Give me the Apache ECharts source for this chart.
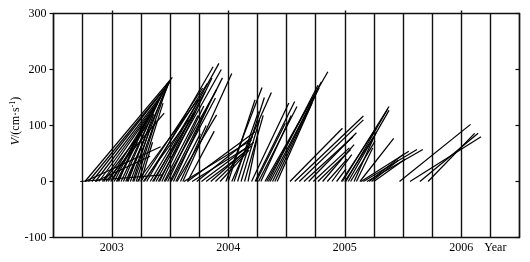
<!DOCTYPE html>
<html><head><meta charset="utf-8">
<script src="https://cdn.jsdelivr.net/npm/echarts@6/dist/echarts.min.js"></script>
<style>html,body{margin:0;padding:0;background:#fff}#c{width:530px;height:262px}</style>
</head><body><div id="c"></div>
<script>
// Each segment rises from V = 0 at segStart (decimal year) to segPeak (cm/s) at segEnd.
const segStart = [
  2002.77, 2002.80, 2002.83, 2002.86, 2002.89, 2002.92, 2002.95, 2002.97, 2003.00, 2003.02, 2003.04,
  2003.06, 2003.08, 2003.10, 2003.12, 2003.14, 2003.16, 2003.18, 2003.19, 2002.77, 2002.73, 2002.86,
  2003.21, 2003.23, 2003.25, 2003.13, 2003.05, 2002.99, 2002.93,
  2003.22, 2003.25, 2003.28, 2003.30, 2003.33, 2003.36, 2003.38, 2003.41, 2003.43, 2003.46, 2003.48,
  2003.51, 2003.53, 2003.56, 2003.59, 2003.61, 2003.65,
  2003.27, 2003.35, 2003.45, 2003.50, 2003.40, 2003.55,
  2003.62, 2003.65, 2003.69, 2003.73, 2003.77, 2003.81, 2003.85, 2003.89, 2003.93,
  2003.98, 2004.00, 2004.03, 2004.05, 2004.08, 2004.11, 2004.14, 2004.17,
  2004.20, 2004.23, 2004.26, 2004.24, 2004.28,
  2004.315, 2004.33, 2004.345, 2004.36, 2004.38, 2004.40, 2004.42,
  2004.53, 2004.57, 2004.61, 2004.65, 2004.69, 2004.73, 2004.77, 2004.81, 2004.85, 2004.89, 2004.93,
  2004.98, 2005.01, 2005.03, 2004.97, 2005.00, 2005.05, 2005.08, 2005.10,
  2005.13, 2005.14, 2005.16, 2005.19, 2005.21, 2005.23, 2005.25,
  2005.47, 2005.56, 2005.645, 2005.715
];
const segEnd = [
  2003.52, 2003.50, 2003.47, 2003.44, 2003.42, 2003.39, 2003.45, 2003.36, 2003.33, 2003.30, 2003.48,
  2003.26, 2003.44, 2003.40, 2003.50, 2003.36, 2003.46, 2003.32, 2003.49, 2003.42, 2003.44, 2003.33,
  2003.38, 2003.44, 2003.35, 2003.28, 2003.22, 2003.28, 2003.30,
  2003.74, 2003.78, 2003.82, 2003.87, 2003.76, 2003.92, 2003.80, 2003.70, 2003.86, 2003.90, 2003.79,
  2003.89, 2003.84, 2003.90, 2003.81, 2004.03, 2003.88,
  2003.66, 2003.72, 2003.74, 2003.95, 2003.94, 2003.76,
  2004.20, 2004.23, 2004.17, 2004.21, 2004.22, 2004.16, 2004.20, 2004.13, 2004.18,
  2004.29, 2004.23, 2004.37, 2004.26, 2004.31, 2004.27, 2004.30, 2004.25,
  2004.52, 2004.57, 2004.59, 2004.49, 2004.54,
  2004.855, 2004.80, 2004.77, 2004.78, 2004.76, 2004.74, 2004.72,
  2004.98, 2005.16, 2005.16, 2005.07, 2005.10, 2005.04, 2005.05, 2005.08, 2005.02, 2005.06, 2005.01,
  2005.38, 2005.37, 2005.38, 2005.27, 2005.25, 2005.26, 2005.27, 2005.24,
  2005.42, 2005.55, 2005.62, 2005.67, 2005.50, 2005.46, 2005.52,
  2006.08, 2006.17, 2006.145, 2006.115
];
const segPeak = [
  186, 178, 170, 158, 150, 140, 122, 130, 118, 110, 176,
  100, 160, 145, 180, 120, 165, 90, 178, 62, 12, 45,
  110, 140, 70, 75, 70, 95, 100,
  146, 167, 175, 205, 150, 211, 160, 122, 185, 164, 135,
  149, 140, 119, 100, 193, 90,
  110, 125, 118, 185, 200, 85,
  74, 89, 62, 80, 70, 55, 64, 48, 56,
  168, 146, 159, 125, 150, 110, 118, 80,
  140, 143, 134, 104, 118,
  196, 178, 172, 167, 160, 150, 140,
  95, 117, 110, 80, 87, 60, 57, 66, 40, 48, 22,
  134, 130, 127, 95, 80, 72, 88, 60,
  77, 54, 57, 57, 48, 38, 40,
  102, 80, 86, 86
];
const yearTicks = [2003, 2004, 2005, 2006];
const unitTickValue = 2006.25;
const unitTickText = 'Year';
const yTickValues = [-100, 0, 100, 200, 300];

const FONT = '"Liberation Serif","Times New Roman",serif';
const INK = '#111';

const segData = segStart.map((t0, i) => ({ coords: [[t0, 0], [segEnd[i], segPeak[i]]] }));

const chart = echarts.init(document.getElementById('c'), null, { renderer: 'canvas' });
chart.setOption({
  animation: false,
  backgroundColor: '#fff',
  grid: { left: 53.5, right: 10.5, top: 13.5, bottom: 24.5, containLabel: false },
  xAxis: [{
    type: 'value', position: 'bottom', min: 2002.5, max: 2006.5, interval: 0.25,
    axisLine: { show: true, onZero: false, lineStyle: { color: INK, width: 1.4 } },
    axisTick: { show: false },
    splitLine: { show: true, lineStyle: { color: INK, width: 1.4 } },
    axisLabel: {
      margin: 4, color: '#000', fontFamily: FONT, fontSize: 12,
      showMinLabel: false, showMaxLabel: false,
      formatter: v => {
        for (const y of yearTicks) if (Math.abs(v - y) < 1e-6) return String(y);
        if (Math.abs(v - unitTickValue) < 1e-6) return '{u|' + unitTickText + '}';
        return '';
      },
      rich: { u: { fontFamily: FONT, fontSize: 12, color: '#000', padding: [0, 0, 0, 10] } }
    }
  }, {
    type: 'value', position: 'top', min: 2002.5, max: 2006.5, interval: 0.25,
    axisLine: { show: true, onZero: false, lineStyle: { color: INK, width: 1.4 } },
    axisTick: { show: true, inside: false, length: 3, customValues: yearTicks, lineStyle: { color: INK, width: 1.4 } },
    axisLabel: { show: false },
    splitLine: { show: false }
  }],
  yAxis: [{
    type: 'value', position: 'left', min: -100, max: 300, interval: 100,
    axisLine: { show: true, onZero: false, lineStyle: { color: INK, width: 1.4 } },
    axisTick: { show: true, inside: false, length: 4, lineStyle: { color: INK, width: 1.2 } },
    axisLabel: { margin: 7, color: '#000', fontFamily: FONT, fontSize: 12,
      formatter: v => yTickValues.includes(v) ? String(v) : '' },
    splitLine: { show: false }
  }, {
    type: 'value', position: 'right', min: -100, max: 300, interval: 100,
    axisLine: { show: true, onZero: false, lineStyle: { color: INK, width: 1.4 } },
    axisTick: { show: true, inside: true, length: 4, lineStyle: { color: INK, width: 1.2 } },
    axisLabel: { show: false },
    splitLine: { show: false }
  }],
  graphic: [{
    type: 'text', x: 16, y: 121, rotation: Math.PI / 2,
    style: {
      text: '{i|V}/(cm·s{s|-1})',
      align: 'center', verticalAlign: 'middle',
      fontFamily: FONT, fontSize: 12, fill: '#000',
      rich: {
        i: { fontFamily: FONT, fontSize: 12, fontStyle: 'italic', fill: '#000' },
        s: { fontFamily: FONT, fontSize: 8, fill: '#000', verticalAlign: 'top', padding: [0, 0, 7, 0] }
      }
    }
  }],
  series: [{
    type: 'lines', coordinateSystem: 'cartesian2d', xAxisIndex: 0, yAxisIndex: 0,
    polyline: false, silent: true,
    lineStyle: { color: '#000', width: 1.25, opacity: 1 },
    data: segData
  }]
});
</script>
</body></html>
